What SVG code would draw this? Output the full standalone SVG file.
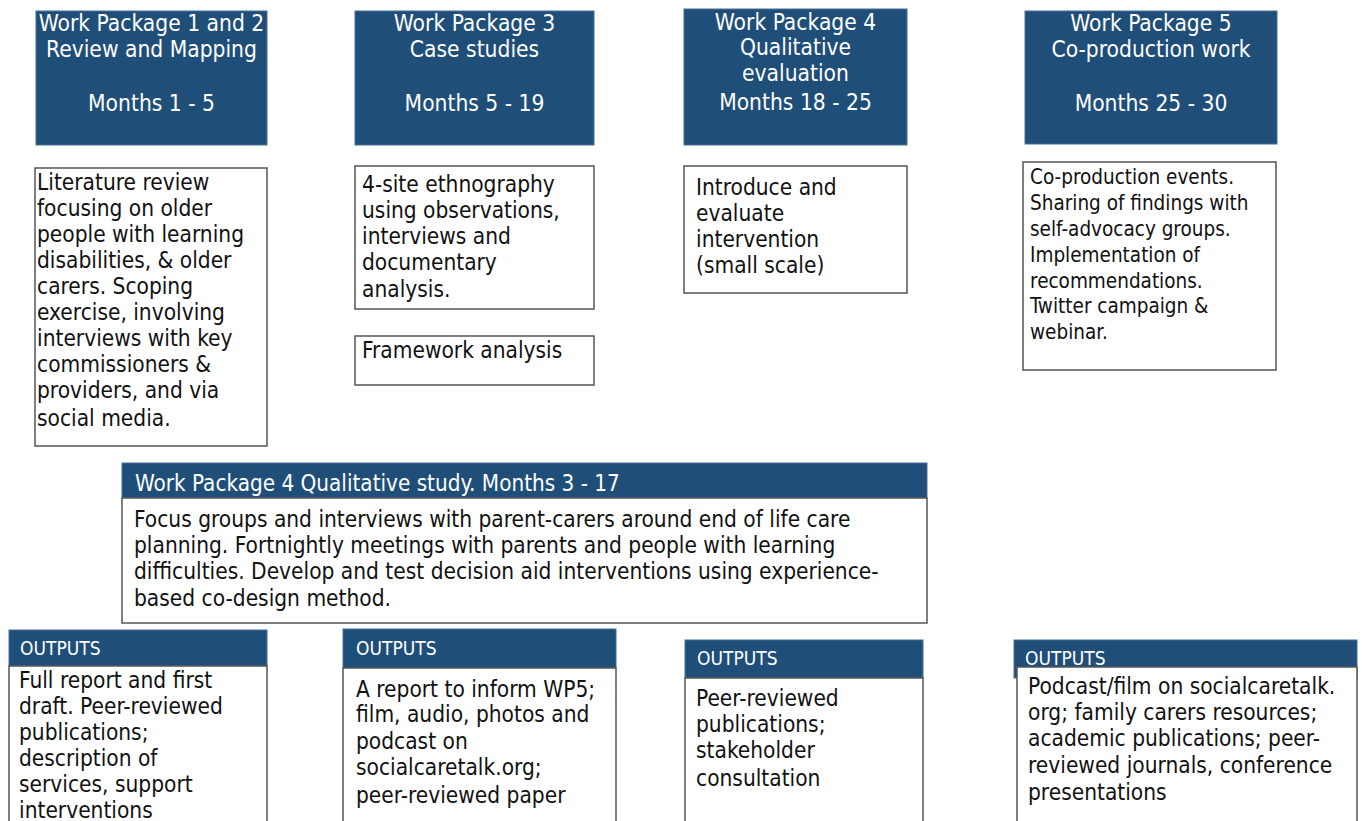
<svg xmlns="http://www.w3.org/2000/svg" width="1362" height="821" viewBox="0 0 1362 821">
<style>
.hd{fill:#1f4e79;stroke:#4a6f95;stroke-width:1}
.bx{fill:#fff;stroke:#555;stroke-width:1.5}
text{font-family:"DejaVu Sans Condensed","DejaVu Sans","Liberation Sans",sans-serif;font-stretch:condensed}
.ht{fill:#fff;font-size:22.6px;text-anchor:middle}
.hl{fill:#fff;font-size:22.3px}
.ot{fill:#fff;font-size:19px}
.t{fill:#111;font-size:22.5px}
.t2{fill:#111;font-size:20.5px}
</style>
<rect width="1362" height="821" fill="#fff"/>
<g id="wp12">
<rect class="hd" x="36" y="11" width="231" height="134"/>
<text class="ht" x="151.5" y="31">Work Package 1 and 2</text>
<text class="ht" x="151.5" y="57">Review and Mapping</text>
<text class="ht" x="151.5" y="111">Months 1 - 5</text>
</g>
<g id="wp3">
<rect class="hd" x="355" y="11" width="239" height="134"/>
<text class="ht" x="474.5" y="31">Work Package 3</text>
<text class="ht" x="474.5" y="57">Case studies</text>
<text class="ht" x="474.5" y="111">Months 5 - 19</text>
</g>
<g id="wp4">
<rect class="hd" x="684" y="9" width="223" height="136"/>
<text class="ht" x="795.5" y="30">Work Package 4</text>
<text class="ht" x="795.5" y="55">Qualitative</text>
<text class="ht" x="795.5" y="81">evaluation</text>
<text class="ht" x="795.5" y="110">Months 18 - 25</text>
</g>
<g id="wp5">
<rect class="hd" x="1025" y="11" width="252" height="133"/>
<text class="ht" x="1151" y="31">Work Package 5</text>
<text class="ht" x="1151" y="57">Co-production work</text>
<text class="ht" x="1151" y="111">Months 25 - 30</text>
</g>
<g id="wp12-body">
<rect class="bx" x="35" y="168" width="232" height="278"/>
<text class="t" x="37" y="190">Literature review</text>
<text class="t" x="37" y="216">focusing on older</text>
<text class="t" x="37" y="242">people with learning</text>
<text class="t" x="37" y="268">disabilities, &amp; older</text>
<text class="t" x="37" y="294">carers. Scoping</text>
<text class="t" x="37" y="320">exercise, involving</text>
<text class="t" x="37" y="346">interviews with key</text>
<text class="t" x="37" y="372">commissioners &amp;</text>
<text class="t" x="37" y="398">providers, and via</text>
<text class="t" x="37" y="426">social media.</text>
</g>
<g id="wp3-body">
<rect class="bx" x="355" y="166" width="239" height="143"/>
<text class="t" x="362" y="192">4-site ethnography</text>
<text class="t" x="362" y="218">using observations,</text>
<text class="t" x="362" y="244">interviews and</text>
<text class="t" x="362" y="270">documentary</text>
<text class="t" x="362" y="297">analysis.</text>
</g>
<g id="wp3-framework">
<rect class="bx" x="355" y="336" width="239" height="49"/>
<text class="t" x="362" y="358">Framework analysis</text>
</g>
<g id="wp4-body">
<rect class="bx" x="684" y="166" width="223" height="127"/>
<text class="t" x="696" y="195">Introduce and</text>
<text class="t" x="696" y="221">evaluate</text>
<text class="t" x="696" y="247">intervention</text>
<text class="t" x="696" y="273">(small scale)</text>
</g>
<g id="wp5-body">
<rect class="bx" x="1023" y="162" width="253" height="208"/>
<text class="t2" x="1030" y="184">Co-production events.</text>
<text class="t2" x="1030" y="210">Sharing of findings with</text>
<text class="t2" x="1030" y="236">self-advocacy groups.</text>
<text class="t2" x="1030" y="262">Implementation of</text>
<text class="t2" x="1030" y="288">recommendations.</text>
<text class="t2" x="1030" y="313">Twitter campaign &amp;</text>
<text class="t2" x="1030" y="339">webinar.</text>
</g>
<g id="wp4-study">
<rect class="hd" x="122" y="463" width="805" height="35"/>
<text class="hl" x="135" y="491">Work Package 4 Qualitative study. Months 3 - 17</text>
<rect class="bx" x="122" y="498" width="805" height="125"/>
<text class="t" x="134" y="527">Focus groups and interviews with parent-carers around end of life care</text>
<text class="t" x="134" y="553">planning. Fortnightly meetings with parents and people with learning</text>
<text class="t" x="134" y="579">difficulties. Develop and test decision aid interventions using experience-</text>
<text class="t" x="134" y="606">based co-design method.</text>
</g>
<g id="out1">
<rect class="hd" x="9" y="630" width="258" height="36"/>
<text class="ot" x="20" y="655">OUTPUTS</text>
<rect class="bx" x="9" y="666" width="258" height="160"/>
<text class="t" x="19" y="688">Full report and first</text>
<text class="t" x="19" y="714">draft. Peer-reviewed</text>
<text class="t" x="19" y="740">publications;</text>
<text class="t" x="19" y="766">description of</text>
<text class="t" x="19" y="792">services, support</text>
<text class="t" x="19" y="818">interventions</text>
</g>
<g id="out2">
<rect class="hd" x="343" y="629" width="273" height="39"/>
<text class="ot" x="356" y="655">OUTPUTS</text>
<rect class="bx" x="343" y="668" width="273" height="160"/>
<text class="t" x="356" y="697">A report to inform WP5;</text>
<text class="t" x="356" y="722">film, audio, photos and</text>
<text class="t" x="356" y="749">podcast on</text>
<text class="t" x="356" y="775">socialcaretalk.org;</text>
<text class="t" x="356" y="803">peer-reviewed paper</text>
</g>
<g id="out3">
<rect class="hd" x="685" y="640" width="238" height="38"/>
<text class="ot" x="697" y="665">OUTPUTS</text>
<rect class="bx" x="685" y="678" width="238" height="150"/>
<text class="t" x="696" y="706">Peer-reviewed</text>
<text class="t" x="696" y="732">publications;</text>
<text class="t" x="696" y="758">stakeholder</text>
<text class="t" x="696" y="786">consultation</text>
</g>
<g id="out4">
<rect class="hd" x="1014" y="640" width="343" height="38"/>
<text class="ot" x="1025" y="665">OUTPUTS</text>
<rect class="bx" x="1017" y="667" width="340" height="160"/>
<text class="t" x="1028" y="694">Podcast/film on socialcaretalk.</text>
<text class="t" x="1028" y="720">org; family carers resources;</text>
<text class="t" x="1028" y="746">academic publications; peer-</text>
<text class="t" x="1028" y="773">reviewed journals, conference</text>
<text class="t" x="1028" y="800">presentations</text>
</g>
<g id="connectors"></g>
</svg>
